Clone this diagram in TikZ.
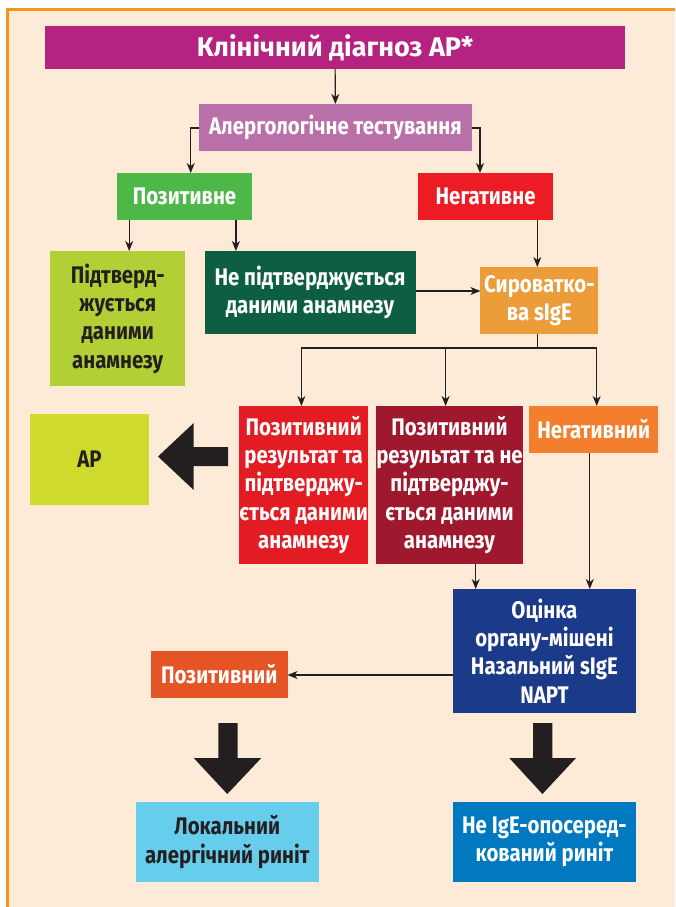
\documentclass[tikz,border=0pt]{standalone}
\usepackage{fontspec}
\setmainfont{Fira Sans}[FakeStretch=0.85]
\newfontfamily\titlefont{Fira Sans}[FakeStretch=1.0]
\usetikzlibrary{arrows.meta}
\definecolor{bgpeach}{HTML}{FDEBD7}
\definecolor{frameor}{HTML}{F7941D}
\definecolor{cTitle}{HTML}{B5227F}
\definecolor{cTest}{HTML}{B970A8}
\definecolor{cPos}{HTML}{4DB848}
\definecolor{cNeg}{HTML}{ED1C24}
\definecolor{cConf}{HTML}{B2CF35}
\definecolor{cNot}{HTML}{0E5E44}
\definecolor{cSer}{HTML}{EC9D3A}
\definecolor{cPosA}{HTML}{E31B23}
\definecolor{cPosB}{HTML}{A0182D}
\definecolor{cNegB}{HTML}{F37F2E}
\definecolor{cAR}{HTML}{CEDB2D}
\definecolor{cOrg}{HTML}{1C3A8A}
\definecolor{cPosC}{HTML}{E55424}
\definecolor{cLoc}{HTML}{67CDEC}
\definecolor{cNon}{HTML}{0079C0}
\definecolor{darkarrow}{HTML}{231F20}
\tikzset{
  box/.style={inner sep=0pt, outer sep=0pt, align=center, font=\fontsize{24}{28.3}\selectfont\bfseries, text=white},
  conn/.style={draw=darkarrow, line width=1.2pt, -{Stealth[length=10pt,width=8pt,inset=3pt]}},
  bigarrow/.style={fill=darkarrow, draw=none},
}
\begin{document}
\begin{tikzpicture}[x=1pt,y=-1pt]
\useasboundingbox (0,0) rectangle (675,907);
\fill[white] (0,0) rectangle (675,907);
\fill[bgpeach] (7.5,9.5) rectangle (675,907);
\draw[frameor, line width=3pt] (7.5,907) -- (7.5,9.5) -- (675,9.5);
% boxes
\node[box, fill=cTitle, minimum width=580pt, minimum height=43pt, font=\fontsize{27}{30}\selectfont\titlefont\bfseries] (title) at (335.1,47.5) {Клінічний діагноз AP*};
\node[box, fill=cTest, minimum width=273pt, minimum height=47pt] (test) at (335.4,127.5) {Алергологічне тестування};
\node[box, fill=cPos, minimum width=134.7pt, minimum height=47pt] (pos) at (184.5,196.5) {Позитивне};
\node[box, fill=cNeg, minimum width=135.2pt, minimum height=47pt] (neg) at (485.6,196.5) {Негативне};
\node[box, fill=cConf, text=darkarrow, minimum width=134.7pt, minimum height=135pt] (conf) at (117.7,318.5) {Підтверд-\\жується\\даними\\анамнезу};
\node[box, fill=cNot, minimum width=211pt, minimum height=83pt] (notc) at (310,292.5) {Не підтверджується\\даними анамнезу};
\node[box, fill=cSer, minimum width=118pt, minimum height=67pt] (ser) at (539.4,300.5) {Сироватко-\\ва sIgE};
\node[box, fill=cPosA, minimum width=128.7pt, minimum height=158pt] (posa) at (303.7,485) {Позитивний\\результат та\\підтверджу-\\ється даними\\анамнезу};
\node[box, fill=cPosB, minimum width=138.6pt, minimum height=158pt] (posb) at (449.5,485) {Позитивний\\результат та не\\підтверджу-\\ється даними\\анамнезу};
\node[box, fill=cNegB, minimum width=129.1pt, minimum height=47pt] (negb) at (593.7,429.5) {Негативний};
\node[box, fill=cAR, text=darkarrow, minimum width=118.8pt, minimum height=91pt] (ar) at (89.6,459.5) {AP};
\node[box, fill=cOrg, minimum width=183pt, minimum height=124pt] (org) at (544.4,651) {Оцінка\\органу-мішені\\Назальний sIgE\\NAPT};
\node[box, fill=cPosC, minimum width=136.5pt, minimum height=47pt] (posc) at (219.3,674.5) {Позитивний};
\node[box, fill=cLoc, text=darkarrow, minimum width=182.5pt, minimum height=80pt] (loc) at (227.3,842) {Локальний\\алергічний риніт};
\node[box, fill=cNon, minimum width=183pt, minimum height=80pt] (non) at (544.4,842) {Не IgE-опосеред-\\кований риніт};
% connectors
\draw[conn] (title.south) -- (test.north);
\draw[conn] (test.west |- 0,128) -| (pos.north -| 190.7,0);
\draw[conn] (test.east |- 0,128) -| (neg.north -| 480,0);
\draw[conn] (pos.south -| 129.2,0) -- (conf.north -| 129.2,0);
\draw[conn] (pos.south -| 235.9,0) -- (notc.north -| 235.9,0);
\draw[conn] (neg.south -| 537.3,0) -- (ser.north -| 537.3,0);
\draw[conn] (notc.east |- 0,291) -- (ser.west |- 0,291);
\coordinate (split) at (537.3,348);
\draw[draw=darkarrow, line width=1.2pt] (ser.south -| split) -- (split);
\draw[conn] (split) -| (posa.north -| 301.4,0);
\draw[conn] (split) -| (negb.north -| 596.7,0);
\draw[conn] (445.6,348) -- (posb.north -| 445.6,0);
\draw[conn] (posb.south -| 475.7,0) -- (org.north -| 475.7,0);
\draw[conn] (negb.south -| 589.8,0) -- (org.north -| 589.8,0);
\draw[conn] (org.west |- 0,675) -- (posc.east |- 0,675);
% big arrows
\fill[bigarrow] (228.2,447) -- (193.7,447) -- (193.7,423) -- (158,456.5) -- (193.7,490) -- (193.7,466) -- (228.2,466) -- cycle;
\fill[bigarrow] (218.3,723) -- (237.6,723) -- (237.6,758) -- (261.3,758) -- (227.3,794) -- (193.7,758) -- (218.3,758) -- cycle;
\fill[bigarrow] (533,723) -- (552.3,723) -- (552.3,758) -- (576,758) -- (542.4,794) -- (509.3,758) -- (533,758) -- cycle;
\end{tikzpicture}
\end{document}
